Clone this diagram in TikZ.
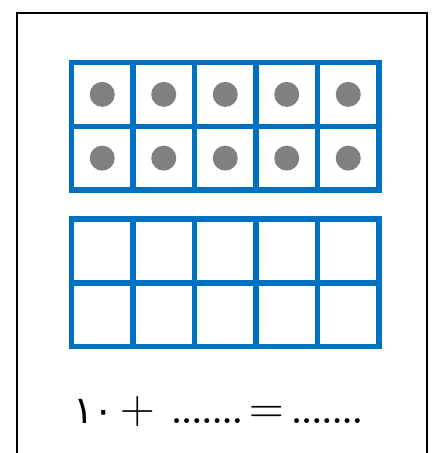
\documentclass[tikz,border=0pt]{standalone}
\usepackage{fontspec}
\newfontfamily\arabicfont[Script=Arabic]{DejaVu Sans}
\definecolor{gridblue}{HTML}{0070C0}
\definecolor{dotgray}{HTML}{808080}
\newcommand\dotrow{\bfseries.\kern-0.5pt.\kern-0.5pt.\kern-0.5pt.\kern-0.5pt.\kern-0.5pt.\kern-0.5pt.}
\tikzset{
  cell/.style={draw=gridblue, line width=5.5pt, minimum width=61.5pt, minimum height=63.75pt, inner sep=0pt, outer sep=0pt},
  counter/.style={circle, fill=dotgray, minimum size=25pt, inner sep=0pt},
  eqtext/.style={anchor=base, inner sep=0pt, font=\fontsize{34}{40}\selectfont},
  eqsign/.style={anchor=base, inner sep=0pt, font=\fontsize{48}{56}\selectfont},
}
\begin{document}
\begin{tikzpicture}[x=1pt,y=-1pt]
\useasboundingbox (0,0) rectangle (435,453);
% outer frame (bottom edge outside the picture)
\draw[line width=2pt] (17,460) -- (17,13) -- (427.3,13) -- (427.3,460);
% top ten-frame with counters
\foreach \r/\y in {1/94.375, 2/158.125}{
  \foreach \c in {1,...,5}{
    \node[cell] (t\r\c) at ({71.5+61.5*(\c-0.5)},\y) {};
    \node[counter] (d\r\c) at (t\r\c.center) {};
  }
}
% bottom empty ten-frame
\foreach \r/\y in {1/250.875, 2/314.625}{
  \foreach \c in {1,...,5}{
    \node[cell] (b\r\c) at ({71.5+61.5*(\c-0.5)},\y) {};
  }
}
% equation
\node[eqtext, font=\fontsize{38}{44}\arabicfont] (ten) at (94,423) {١٠};
\node[eqsign] (plus) at (138,423) {+};
\node[eqtext] (dots1) at (207,423) {\dotrow};
\node[eqsign] (eq) at (266.5,423) {=};
\node[eqtext] (dots2) at (327,423) {\dotrow};
\end{tikzpicture}
\end{document}
